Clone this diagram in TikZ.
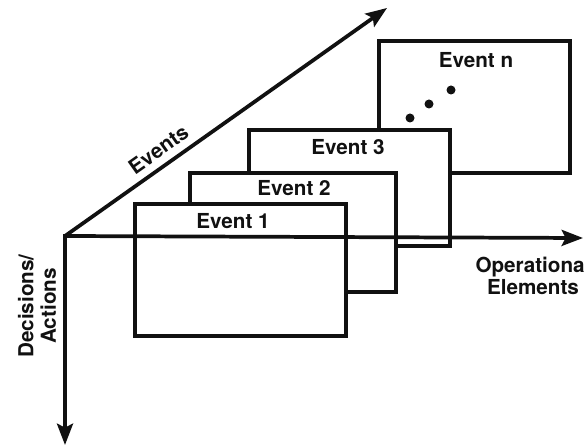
\documentclass[tikz,border=0pt]{standalone}
\usepackage{fontspec}
\setmainfont{TeX Gyre Heros}
\usetikzlibrary{arrows.meta}
\definecolor{scanink}{HTML}{111111}

\begin{document}
\begin{tikzpicture}[
  x=0.75pt,
  y=-0.75pt,
  every node/.style={font=\fontsize{15.5}{16}\selectfont\bfseries, text=scanink},
  axisline/.style={scanink, line width=2.8pt, -{Stealth[length=16pt, width=12pt, inset=3pt]}},
  evframe/.style={draw=scanink, fill=white, line width=2.8pt}
]
  \useasboundingbox (0,0) rectangle (584,448);

  % stacked event sheets, back to front
  \filldraw[evframe] (379,41) rectangle (570,173);
  \filldraw[evframe] (249,130) rectangle (450,246);
  \filldraw[evframe] (190,173) rectangle (396,292);
  \filldraw[evframe] (135,204) rectangle (346,336);

  \node (evn) at (476,60) {Event n};
  \node (ev3) at (348,147) {Event 3};
  \node (ev2) at (294,188) {Event 2};
  \node (ev1) at (233,221) {Event 1};

  \fill[scanink] (410,118) circle (4.5);
  \fill[scanink] (429,104) circle (4.5);
  \fill[scanink] (451,90) circle (4.5);

  % axes
  \coordinate (O) at (65,236);
  \coordinate (evtip) at (387,8);
  \coordinate (optip) at (583,238);
  \coordinate (datip) at (65,445);

  \draw[axisline] (O) -- node[pos=0.32, sloped, above=2pt] (evlab) {Events} (evtip);
  \draw[axisline] (O) -- (optip);
  \draw[axisline, shorten <=-1.4pt] (O) -- (datip);

  \node[align=center] (oplab) at (533,276) {Operational\\[1pt]Elements};
  \node[align=center, rotate=90] (dalab) at (37,306) {Decisions/\\[1pt]Actions};
\end{tikzpicture}
\end{document}
